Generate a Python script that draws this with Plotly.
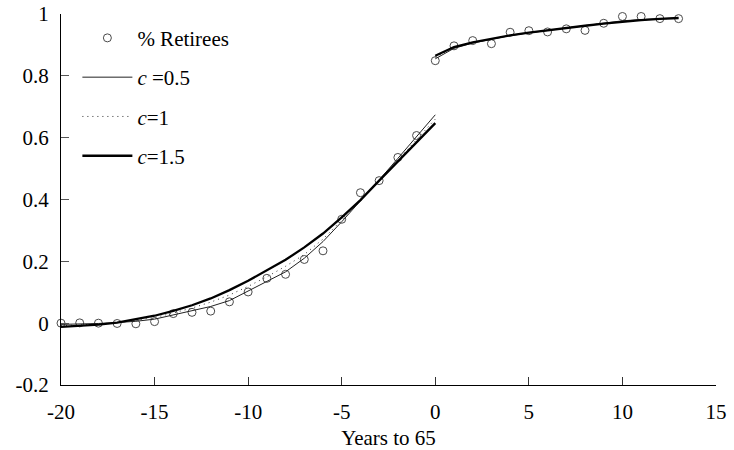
import plotly.graph_objects as go

# ---- data ----
ret_x = list(range(-20, 0)) + list(range(0, 14))
ret_y = [0.000, 0.001, 0.000, -0.001, -0.002, 0.005, 0.031, 0.035, 0.039, 0.069,
         0.101, 0.145, 0.158, 0.206, 0.234, 0.336, 0.422, 0.461, 0.536, 0.607,
         0.849, 0.897, 0.914, 0.904, 0.941, 0.946, 0.942, 0.952, 0.947, 0.970,
         0.992, 0.992, 0.985, 0.985]

x_pre = list(range(-20, 1))
x_post = list(range(0, 14))

c05_pre = [-0.004, -0.003, -0.001, 0.002, 0.006, 0.013, 0.026, 0.040, 0.054, 0.073,
           0.104, 0.135, 0.166, 0.210, 0.264, 0.328, 0.394, 0.463, 0.533, 0.603, 0.674]
c1_pre = [-0.008, -0.006, -0.003, 0.002, 0.009, 0.018, 0.033, 0.049, 0.068, 0.091,
          0.119, 0.150, 0.184, 0.222, 0.272, 0.333, 0.395, 0.461, 0.528, 0.594, 0.660]
c15_pre = [-0.012, -0.009, -0.005, 0.002, 0.012, 0.024, 0.040, 0.058, 0.080, 0.107,
           0.137, 0.170, 0.205, 0.245, 0.290, 0.342, 0.398, 0.461, 0.523, 0.585, 0.647]

c05_post = [0.855, 0.889, 0.906, 0.919, 0.930, 0.939, 0.947, 0.954, 0.962, 0.971,
            0.978, 0.982, 0.985, 0.987]
c1_post = [0.860, 0.891, 0.907, 0.920, 0.931, 0.940, 0.948, 0.955, 0.962, 0.970,
           0.976, 0.981, 0.984, 0.986]
c15_post = [0.865, 0.893, 0.908, 0.920, 0.931, 0.940, 0.948, 0.955, 0.962, 0.969,
            0.975, 0.980, 0.984, 0.987]

x_ticks = [-20, -15, -10, -5, 0, 5, 10, 15]
y_ticks = [-0.2, 0, 0.2, 0.4, 0.6, 0.8, 1]
y_tick_labels = ["-0.2", "0", "0.2", "0.4", "0.6", "0.8", "1"]

FONT = "Liberation Serif"
FS = 21


def joined(a_x, a_y, b_x, b_y):
    return a_x + [None] + b_x, a_y + [None] + b_y


fig = go.Figure()

fig.add_trace(go.Scatter(
    x=ret_x, y=ret_y, mode="markers", name="% Retirees",
    marker=dict(symbol="circle-open", size=8, color="#4a4a4a", line=dict(width=1)),
    cliponaxis=False, legendgroup="a",
))

for name, pre, post, style, grp in [
    ("<i>c</i> =0.5", c05_pre, c05_post, dict(color="#222222", width=1), "b"),
    ("<i>c</i>=1", c1_pre, c1_post, dict(color="#333333", width=1, dash="1px,4px"), "c"),
    ("<i>c</i>=1.5", c15_pre, c15_post, dict(color="black", width=2.3), "d"),
]:
    xx, yy = joined(x_pre, pre, x_post, post)
    fig.add_trace(go.Scatter(x=xx, y=yy, mode="lines", name=name, line=style,
                             connectgaps=False, legendgroup=grp))

fig.update_layout(
    width=734, height=450,
    margin=dict(l=61, r=18, t=14, b=65, autoexpand=False),
    paper_bgcolor="white", plot_bgcolor="white",
    font=dict(family=FONT, size=FS, color="black"),
    showlegend=True,
    legend=dict(x=0.025, y=0.99, xanchor="left", yanchor="top",
                bgcolor="rgba(0,0,0,0)", itemwidth=50, tracegroupgap=9,
                font=dict(family=FONT, size=FS)),
    xaxis=dict(range=[-20, 15], tickmode="array", tickvals=x_ticks,
               ticktext=[str(v) for v in x_ticks], automargin=False,
               showgrid=False, zeroline=False, showline=True, linecolor="black",
               linewidth=1.3, ticks="inside", ticklen=8, tickcolor="#333",
               ticklabelstandoff=8,
               title=dict(text="Years to 65", standoff=7, font=dict(size=FS))),
    yaxis=dict(range=[-0.2, 1], tickmode="array", tickvals=y_ticks,
               ticktext=y_tick_labels, automargin=False,
               showgrid=False, zeroline=False, showline=True, linecolor="black",
               linewidth=1.3, ticks="inside", ticklen=8, tickcolor="#555",
               ticklabelstandoff=7),
)

fig.write_html("out.html", config={"displayModeBar": False},
               post_script="document.body.style.margin='0px';")
